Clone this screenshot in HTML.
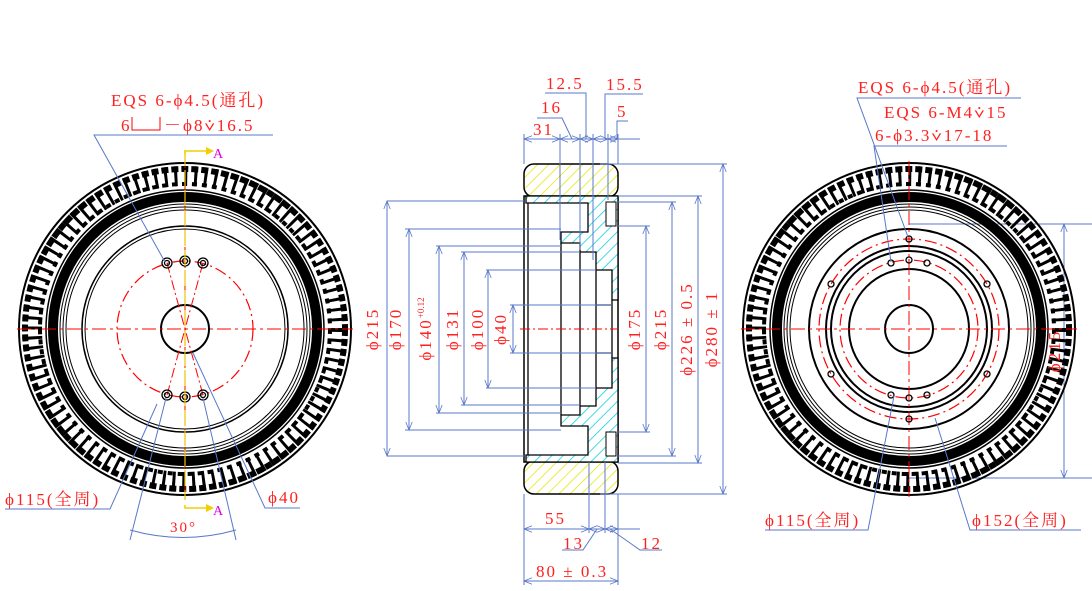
<!DOCTYPE html>
<html><head><meta charset="utf-8"><style>
html,body{margin:0;padding:0;background:#fff;width:1092px;height:591px;overflow:hidden}
svg{display:block}
text{font-family:"Liberation Serif","Noto Serif CJK SC",serif;fill:#ff2020;font-size:17px;letter-spacing:2px}
.b{stroke:#5a78c8;stroke-width:1;fill:none}
.d{stroke:#5a78c8;stroke-width:1;fill:none;marker-start:url(#ar);marker-end:url(#ar)}
.k{stroke:#000;fill:none}
.r{stroke:#f00;fill:none;stroke-dasharray:12 4 2 4}
</style></head><body>
<svg width="1092" height="591" viewBox="0 0 1092 591">
<defs>
<marker id="ar" viewBox="0 0 10 10" refX="10" refY="5" markerWidth="10" markerHeight="8" orient="auto-start-reverse" markerUnits="userSpaceOnUse"><path d="M0,1 L10,5 L0,9" fill="none" stroke="#5a78c8"/></marker>
<pattern id="hy" width="8" height="8" patternUnits="userSpaceOnUse" patternTransform="rotate(45)"><rect width="8" height="8" fill="#fff"/><line x1="0" y1="0" x2="0" y2="8" stroke="#e6e600" stroke-width="1.5"/></pattern>
<pattern id="hc" width="8" height="8" patternUnits="userSpaceOnUse" patternTransform="rotate(45)"><rect width="8" height="8" fill="#fff"/><line x1="0" y1="0" x2="0" y2="8" stroke="#00d0e0" stroke-width="1.5"/></pattern>
<g id="tyre">
<circle r="166" class="k" stroke-width="2"/>
<circle r="153" class="k" stroke-width="20" stroke-dasharray="3 7"/>
<circle r="160" class="k" stroke-width="6" stroke-dasharray="7 3"/>
<circle r="145" class="k" stroke-width="4" stroke-dasharray="5 5"/>
<circle r="139" class="k" stroke-width="1.5"/>
<circle r="132" class="k" stroke-width="10"/>
<circle r="125" class="k" stroke-width="1"/>
<circle r="122" class="k" stroke-width="1"/>
<circle r="119" class="k" stroke-width="1"/>
</g>
</defs>

<!-- LEFT WHEEL -->
<g transform="translate(185,329)">
<use href="#tyre"/>
<circle r="103" class="k" stroke-width="1.5"/><circle r="100" class="k" stroke-width="1"/>
<circle r="24" class="k" stroke-width="2"/>
<circle r="68" class="r" stroke-width="1.2"/>
<line x1="-168" y1="0" x2="168" y2="0" stroke="#f00" stroke-dasharray="14 4 3 4"/>
<line x1="0" y1="-175" x2="0" y2="170" stroke="#f00" stroke-dasharray="14 4 3 4"/>
<g stroke="#f00" stroke-dasharray="10 3 2 3" fill="none"><line x1="-18" y1="-66" x2="0" y2="0"/><line x1="18" y1="-66" x2="0" y2="0"/><line x1="-18" y1="66" x2="0" y2="0"/><line x1="18" y1="66" x2="0" y2="0"/></g>
<g class="k" stroke-width="1.3">
<circle cx="-18" cy="-66" r="5"/><circle cx="0" cy="-68" r="5"/><circle cx="18" cy="-66" r="5"/>
<circle cx="-18" cy="66" r="5"/><circle cx="0" cy="68" r="5"/><circle cx="18" cy="66" r="5"/>
<circle cx="-18" cy="-66" r="2.5"/><circle cx="0" cy="-68" r="2.5"/><circle cx="18" cy="-66" r="2.5"/>
<circle cx="-18" cy="66" r="2.5"/><circle cx="0" cy="68" r="2.5"/><circle cx="18" cy="66" r="2.5"/>
</g>
</g>
<line x1="185" y1="150" x2="185" y2="500" stroke="#f0c000" stroke-width="1.2" stroke-dasharray="16 4"/>
<polyline points="185,155 185,151 206,151" stroke="#f0d000" fill="none" stroke-width="1.5"/><polygon points="206,147 214,151 206,155" fill="#f0d000"/>
<polyline points="185,505 185,508 206,508" stroke="#f0d000" fill="none" stroke-width="1.5"/><polygon points="206,504 214,508 206,512" fill="#f0d000"/>
<text x="213" y="158" style="fill:#e000e0;font-size:14px">A</text>
<text x="213" y="515" style="fill:#e000e0;font-size:14px">A</text>
<text x="111" y="106">EQS 6-ϕ4.5(通孔)</text>
<text x="121" y="131">6</text>
<polyline points="132,117 132,130 160,130 160,117" stroke="#f00" fill="none"/>
<text x="164" y="131">－ϕ8⩒16.5</text>
<polyline class="b" points="273,135 94,135 165,262"/>
<polyline class="b" points="5,509 110,509 157,404"/>
<text x="5" y="505">ϕ115(全周)</text>
<polyline class="b" points="300,508 265,508 193,353"/>
<text x="268" y="503">ϕ40</text>
<line class="b" x1="130" y1="540" x2="166" y2="398"/><line class="b" x1="236" y1="540" x2="203" y2="398"/>
<path class="b" d="M130,530 Q183,545 236,530"/>
<text x="170" y="532" style="font-size:15px">30°</text>

<!-- SECTION VIEW -->
<rect x="524" y="164" width="94" height="33" rx="10" fill="url(#hy)" stroke="#000" stroke-width="1.5"/>
<rect x="524" y="461" width="94" height="33" rx="10" fill="url(#hy)" stroke="#000" stroke-width="1.5"/>
<rect x="524" y="196" width="94" height="266" fill="#fff" stroke="#000" stroke-width="1.5"/>
<polygon points="526,196 618,196 618,300 612,300 612,270 596,270 596,252 580,252 580,243 561,243 561,232 588,232 588,203 526,203" fill="url(#hc)" stroke="#000" stroke-width="1.3"/>
<polygon points="526,462 618,462 618,358 612,358 612,388 596,388 596,406 580,406 580,415 561,415 561,426 588,426 588,455 526,455" fill="url(#hc)" stroke="#000" stroke-width="1.3"/>
<rect x="606" y="202" width="10" height="24" fill="#fff" stroke="#000"/>
<rect x="606" y="432" width="10" height="24" fill="#fff" stroke="#000"/>
<g class="k" stroke-width="1.3">
<line x1="528" y1="203" x2="528" y2="455"/>
<line x1="561" y1="243" x2="561" y2="415"/>
<line x1="580" y1="252" x2="580" y2="406"/>
<line x1="596" y1="270" x2="596" y2="388"/>
<line x1="612" y1="300" x2="612" y2="358"/>
<line x1="596" y1="305" x2="612" y2="305"/><line x1="596" y1="353" x2="612" y2="353"/>
</g>
<line x1="520" y1="329" x2="618" y2="329" stroke="#f00" stroke-dasharray="10 3 2 3"/>
<g class="b">
<line x1="387" y1="201" x2="524" y2="201"/><line x1="387" y1="456" x2="524" y2="456"/>
<line x1="405" y1="229" x2="561" y2="229"/><line x1="405" y1="430" x2="561" y2="430"/>
<line x1="436" y1="246" x2="561" y2="246"/><line x1="436" y1="413" x2="561" y2="413"/>
<line x1="461" y1="252" x2="580" y2="252"/><line x1="461" y1="405" x2="580" y2="405"/>
<line x1="486" y1="270" x2="596" y2="270"/><line x1="486" y1="388" x2="596" y2="388"/>
<line x1="510" y1="305" x2="612" y2="305"/><line x1="510" y1="353" x2="612" y2="353"/>
<line x1="618" y1="226" x2="650" y2="226"/><line x1="618" y1="432" x2="650" y2="432"/>
<line x1="618" y1="202" x2="676" y2="202"/><line x1="618" y1="456" x2="676" y2="456"/>
<line x1="618" y1="196" x2="702" y2="196"/><line x1="618" y1="463" x2="702" y2="463"/>
<line x1="600" y1="164" x2="727" y2="164"/><line x1="600" y1="494" x2="727" y2="494"/>
<line x1="524" y1="134" x2="524" y2="164"/><line x1="560" y1="134" x2="560" y2="240"/><line x1="580" y1="134" x2="580" y2="250"/><line x1="593" y1="134" x2="593" y2="260"/><line x1="608" y1="134" x2="608" y2="200"/><line x1="618" y1="134" x2="618" y2="164"/>
<line x1="618" y1="139" x2="640" y2="139"/>
<polyline points="537,118 562,118 572,139"/><polyline points="545,93 586,93 586,139"/><polyline points="643,94 605,94 605,139"/><polyline points="628,121 617,121 617,139"/>
<line x1="524" y1="494" x2="524" y2="585"/><line x1="589" y1="462" x2="589" y2="533"/><line x1="605" y1="462" x2="605" y2="533"/><line x1="618" y1="494" x2="618" y2="585"/>
<line x1="618" y1="529" x2="640" y2="529"/>
<polyline points="562,550 583,550 597,529"/><polyline points="662,550 640,550 610,529"/>
<line x1="909" y1="224" x2="1092" y2="224"/><line x1="909" y1="478" x2="1092" y2="478"/>
</g>
<g class="d">
<line x1="387" y1="201" x2="387" y2="456"/><line x1="409" y1="229" x2="409" y2="430"/><line x1="439" y1="246" x2="439" y2="413"/>
<line x1="464" y1="252" x2="464" y2="405"/><line x1="488" y1="270" x2="488" y2="388"/><line x1="513" y1="305" x2="513" y2="353"/>
<line x1="646" y1="226" x2="646" y2="432"/><line x1="672" y1="202" x2="672" y2="456"/><line x1="698" y1="196" x2="698" y2="463"/><line x1="723" y1="164" x2="723" y2="494"/>
<line x1="524" y1="139" x2="560" y2="139"/><line x1="560" y1="139" x2="580" y2="139"/><line x1="580" y1="139" x2="593" y2="139"/><line x1="593" y1="139" x2="608" y2="139"/><line x1="608" y1="139" x2="618" y2="139"/>
<line x1="524" y1="529" x2="589" y2="529"/><line x1="589" y1="529" x2="605" y2="529"/><line x1="605" y1="529" x2="618" y2="529"/>
<line x1="524" y1="581" x2="618" y2="581"/>
<line x1="1064" y1="224" x2="1064" y2="478"/>
</g>
<text x="0" y="0" transform="translate(378,329) rotate(-90)" text-anchor="middle">ϕ215</text>
<text x="0" y="0" transform="translate(401,329) rotate(-90)" text-anchor="middle">ϕ170</text>
<text x="0" y="0" transform="translate(431,329) rotate(-90)" text-anchor="middle">ϕ140<tspan style="font-size:9px;letter-spacing:0" dy="-7">+0.12</tspan></text>
<text x="0" y="0" transform="translate(458,329) rotate(-90)" text-anchor="middle">ϕ131</text>
<text x="0" y="0" transform="translate(483,329) rotate(-90)" text-anchor="middle">ϕ100</text>
<text x="0" y="0" transform="translate(506,329) rotate(-90)" text-anchor="middle">ϕ40</text>
<text x="0" y="0" transform="translate(640,329) rotate(-90)" text-anchor="middle">ϕ175</text>
<text x="0" y="0" transform="translate(666,329) rotate(-90)" text-anchor="middle">ϕ215</text>
<text x="0" y="0" transform="translate(692,329) rotate(-90)" text-anchor="middle">ϕ226 ± 0.5</text>
<text x="0" y="0" transform="translate(717,329) rotate(-90)" text-anchor="middle">ϕ280 ± 1</text>
<text x="546" y="89">12.5</text><text x="606" y="90">15.5</text><text x="541" y="113">16</text><text x="617" y="117">5</text><text x="533" y="135">31</text>
<text x="545" y="524">55</text><text x="563" y="549">13</text><text x="641" y="549">12</text><text x="536" y="577">80 ± 0.3</text>

<!-- RIGHT WHEEL -->
<g transform="translate(909,329)">
<use href="#tyre"/>
<circle r="100" class="k" stroke-width="2"/><circle r="83" class="k" stroke-width="2"/><circle r="78" class="k" stroke-width="2"/><circle r="60" class="k" stroke-width="2"/>
<circle r="24" class="k" stroke-width="2"/>
<circle r="90" class="r" stroke-width="1.2"/><circle r="69" class="r" stroke-width="1.2"/>
<line x1="-168" y1="0" x2="168" y2="0" stroke="#f00" stroke-dasharray="14 4 3 4"/>
<line x1="0" y1="-168" x2="0" y2="168" stroke="#f00" stroke-dasharray="14 4 3 4"/>
<g class="k" stroke-width="1.3">
<circle cx="0" cy="-90" r="3"/><circle cx="0" cy="90" r="3"/><circle cx="-78" cy="-45" r="3"/><circle cx="78" cy="-45" r="3"/><circle cx="-78" cy="45" r="3"/><circle cx="78" cy="45" r="3"/>
<circle cx="-18" cy="-66" r="3"/><circle cx="0" cy="-69" r="3"/><circle cx="18" cy="-66" r="3"/>
<circle cx="-18" cy="66" r="3"/><circle cx="0" cy="69" r="3"/><circle cx="18" cy="66" r="3"/>
</g>
</g>
<text x="858" y="93">EQS 6-ϕ4.5(通孔)</text>
<text x="884" y="118">EQS 6-M4⩒15</text>
<text x="875" y="141">6-ϕ3.3⩒17-18</text>
<polyline class="b" points="1021,98 857,98 908,237"/>
<polyline class="b" points="1007,146 874,146 891,262"/>
<polyline class="b" points="765,530 868,530 894,396"/>
<text x="765" y="526">ϕ115(全周)</text>
<polyline class="b" points="1081,530 970,530 935,418"/>
<text x="972" y="526">ϕ152(全周)</text>
<text x="0" y="0" transform="translate(1060,351) rotate(-90)" text-anchor="middle">ϕ215</text>
</svg>
</body></html>
